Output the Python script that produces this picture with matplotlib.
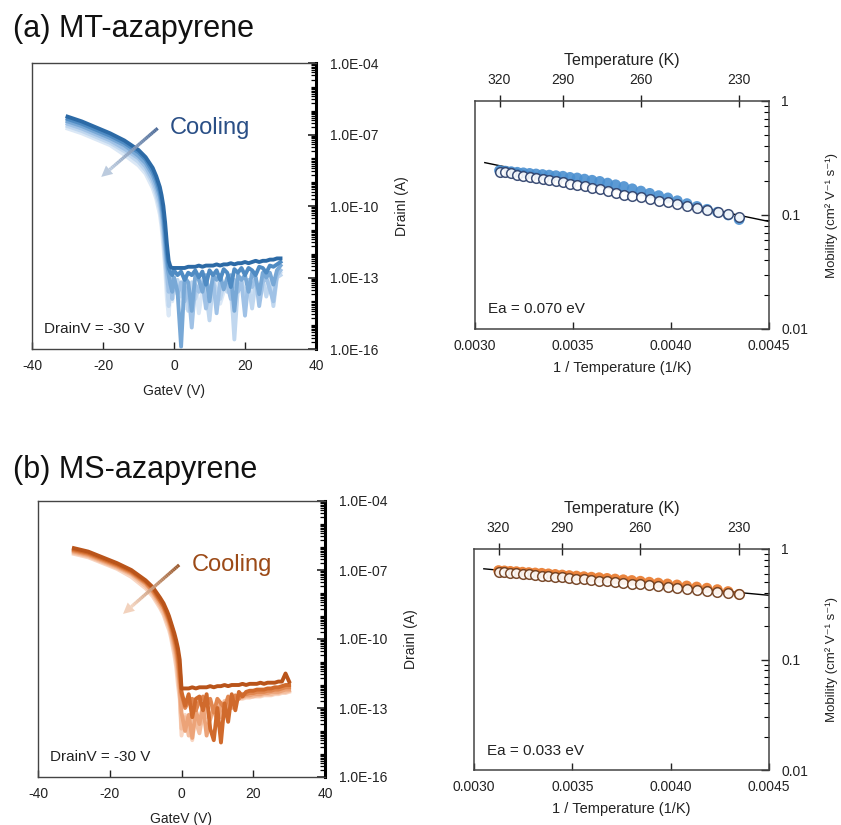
import numpy as np
import matplotlib
matplotlib.use("Agg")
import matplotlib.pyplot as plt
from matplotlib.collections import LineCollection
from matplotlib.ticker import LogLocator, FixedLocator, NullFormatter, FuncFormatter

plt.rcParams['font.family'] = ['Liberation Sans', 'DejaVu Sans']

# ---- transfer curves (log10 of drain current) ----
gate_v = [-30, -26, -22, -18, -14, -10, -8, -6, -5, -4, -3.5, -3, -2.5, -2, -1.5, -1, -0.5,
          0, 1, 2, 3, 4, 5, 6, 7, 8, 9, 10, 11, 12, 13, 14, 15, 16, 17, 18, 19, 20,
          21, 22, 23, 24, 25, 26, 27, 28, 29, 30]

# MT-azapyrene, hot (dark) -> cold (light)
mt_on = [
    [-6.25, -6.45, -6.7, -6.95, -7.25, -7.65, -7.95, -8.4, -8.75, -9.2, -9.55, -10.0, -10.7, -11.6, -12.3, -12.55, -12.6],
    [-6.35, -6.55, -6.8, -7.05, -7.35, -7.75, -8.05, -8.55, -8.9, -9.4, -9.8, -10.3, -11.1, -12.0, -12.6, -12.8, -12.9],
    [-6.45, -6.65, -6.9, -7.15, -7.45, -7.9, -8.2, -8.7, -9.1, -9.6, -10.05, -10.6, -11.5, -12.4, -12.9, -13.3, -13.6],
    [-6.55, -6.75, -7.0, -7.25, -7.6, -8.0, -8.35, -8.9, -9.3, -9.85, -10.3, -10.95, -11.9, -12.8, -13.6, -13.0, -13.9],
    [-6.65, -6.85, -7.1, -7.35, -7.7, -8.15, -8.5, -9.05, -9.5, -10.1, -10.6, -11.3, -12.3, -13.2, -14.2, -13.3, -13.6],
    [-6.75, -6.95, -7.2, -7.45, -7.85, -8.3, -8.65, -9.25, -9.7, -10.35, -10.9, -11.7, -12.6, -13.9, -14.6, -13.5, -14.0],
]
mt_off = [
    [-12.6, -12.6, -12.6, -12.6, -12.55, -12.55, -12.55, -12.5, -12.55, -12.5, -12.5, -12.5, -12.45, -12.5, -12.45, -12.45,
     -12.4, -12.45, -12.4, -12.4, -12.35, -12.4, -12.35, -12.3, -12.35, -12.3, -12.3, -12.25, -12.25, -12.2, -12.2],
    [-12.7, -12.9, -12.75, -13.1, -12.8, -12.9, -12.7, -13.0, -12.75, -13.3, -12.7, -12.9, -12.7, -13.1, -12.65, -12.8,
     -13.4, -12.65, -12.8, -12.6, -12.9, -12.6, -12.7, -12.9, -12.55, -12.6, -12.8, -12.5, -12.55, -12.45, -12.35],
    [-13.0, -13.6, -15.9, -13.0, -13.2, -14.4, -12.9, -13.1, -13.6, -12.9, -14.0, -12.9, -13.1, -12.9, -13.5, -13.0,
     -12.9, -14.4, -12.9, -13.1, -12.9, -13.6, -12.8, -13.0, -13.7, -12.8, -13.0, -12.8, -13.3, -12.7, -12.5],
    [-13.0, -13.7, -13.2, -14.0, -13.4, -15.1, -13.3, -13.6, -13.2, -14.3, -13.5, -13.1, -14.5, -13.2, -13.4, -13.3,
     -13.9, -13.1, -13.6, -13.2, -14.6, -13.1, -13.4, -13.0, -14.2, -13.2, -13.0, -13.5, -14.0, -12.9, -12.7],
    [-13.3, -13.1, -13.8, -13.3, -14.4, -13.2, -13.9, -13.4, -13.1, -13.6, -14.8, -13.2, -13.5, -13.9, -13.3, -13.6,
     -13.2, -15.6, -13.4, -13.1, -13.7, -13.3, -14.3, -13.2, -13.5, -13.1, -13.8, -13.2, -14.2, -13.0, -12.9],
    [-13.5, -13.2, -13.9, -14.3, -13.4, -13.7, -13.2, -14.5, -13.5, -13.3, -13.9, -13.4, -13.2, -14.1, -13.6, -13.3,
     -13.8, -14.9, -13.5, -13.2, -14.0, -13.4, -13.6, -13.3, -13.7, -13.2, -13.5, -13.1, -13.4, -13.0, -12.8],
]

# MS-azapyrene
ms_on = [
    [-6.05, -6.2, -6.45, -6.7, -7.0, -7.45, -7.75, -8.2, -8.45, -8.8, -9.0, -9.25, -9.5, -9.75, -10.05, -10.4, -10.9],
    [-6.1, -6.25, -6.5, -6.75, -7.05, -7.5, -7.8, -8.3, -8.55, -8.9, -9.1, -9.35, -9.6, -9.9, -10.2, -10.6, -11.3],
    [-6.15, -6.3, -6.55, -6.8, -7.1, -7.55, -7.9, -8.35, -8.6, -9.0, -9.2, -9.45, -9.75, -10.05, -10.4, -10.9, -11.7],
    [-6.2, -6.35, -6.6, -6.85, -7.15, -7.6, -7.95, -8.45, -8.7, -9.1, -9.3, -9.6, -9.9, -10.25, -10.65, -11.2, -12.1],
    [-6.25, -6.4, -6.65, -6.9, -7.2, -7.7, -8.05, -8.55, -8.85, -9.25, -9.45, -9.75, -10.1, -10.45, -10.9, -11.6, -12.4],
    [-6.3, -6.45, -6.7, -6.95, -7.3, -7.8, -8.15, -8.65, -8.95, -9.4, -9.6, -9.9, -10.3, -10.7, -11.2, -12.0, -12.6],
]
ms_off = [
    [-12.15, -12.15, -12.15, -12.1, -12.15, -12.1, -12.1, -12.1, -12.05, -12.1, -12.05, -12.05, -12.0, -12.05, -12.0, -12.0,
     -12.0, -11.95, -12.0, -11.95, -11.95, -11.95, -11.9, -11.95, -11.9, -11.9, -11.9, -11.85, -11.85, -11.5, -11.85],
    [-12.3, -12.9, -12.4, -13.4, -12.6, -12.5, -13.1, -12.4, -13.9, -14.4, -13.0, -14.5, -12.8, -13.6, -12.4, -13.1,
     -12.3, -12.5, -12.3, -12.25, -12.25, -12.2, -12.2, -12.2, -12.15, -12.15, -12.1, -12.1, -12.05, -12.0, -12.0],
    [-12.4, -13.0, -12.7, -12.6, -13.1, -12.7, -12.5, -12.9, -12.6, -13.2, -12.6, -12.8, -13.0, -12.5, -12.7, -12.45,
     -12.6, -12.4, -12.4, -12.35, -12.35, -12.3, -12.3, -12.3, -12.25, -12.25, -12.2, -12.2, -12.15, -12.1, -12.1],
    [-13.2, -14.0, -13.3, -14.3, -13.1, -13.7, -12.9, -14.2, -13.4, -13.0, -13.6, -12.8, -13.3, -12.7, -13.0, -12.6,
     -12.5, -12.5, -12.45, -12.45, -12.4, -12.4, -12.4, -12.35, -12.35, -12.3, -12.3, -12.3, -12.25, -12.2, -12.2],
    [-13.9, -13.4, -14.2, -13.0, -13.6, -14.1, -13.2, -12.9, -13.5, -13.1, -12.8, -13.4, -12.7, -12.9, -12.6, -12.6,
     -12.55, -12.55, -12.5, -12.5, -12.5, -12.45, -12.45, -12.4, -12.4, -12.4, -12.35, -12.35, -12.3, -12.3, -12.25],
    [-14.2, -13.3, -13.8, -14.4, -13.2, -13.6, -12.9, -13.4, -12.8, -13.1, -12.7, -12.9, -12.7, -12.65, -12.65, -12.6,
     -12.6, -12.6, -12.55, -12.55, -12.5, -12.5, -12.5, -12.45, -12.45, -12.45, -12.4, -12.4, -12.35, -12.35, -12.3],
]

mt_colors = ['#2c6aa6', '#4f8bc3', '#78a8d6', '#a0c2e6', '#c0d7ef', '#dbe8f6']
ms_colors = ['#b9541a', '#d06a2c', '#e0864f', '#eca378', '#f4bfa0', '#f9d6c2']

# ---- mobility vs temperature ----
temps = [320, 317, 314, 311, 308, 305, 302, 299, 296, 293, 290, 287, 284, 281, 278, 275,
         272, 269, 266, 263, 260, 257, 254, 251, 248, 245, 242, 239, 236, 233, 230]
mt_mu_fill = [0.2455, 0.2427, 0.2399, 0.2371, 0.2344, 0.2317, 0.2291, 0.2265, 0.2239, 0.2213, 0.2188,
              0.2138, 0.2113, 0.2065, 0.2018, 0.1972, 0.1905, 0.1841, 0.1778, 0.1698, 0.1622, 0.1549,
              0.1479, 0.1413, 0.1334, 0.1259, 0.1189, 0.1122, 0.1059, 0.1000, 0.0912]
mt_mu_open = [0.240, 0.237, 0.232, 0.226, 0.221, 0.216, 0.211, 0.207, 0.202, 0.197, 0.193,
              0.188, 0.182, 0.178, 0.172, 0.168, 0.162, 0.157, 0.151, 0.148, 0.143, 0.138,
              0.133, 0.129, 0.124, 0.120, 0.115, 0.111, 0.106, 0.102, 0.0955]
ms_mu_fill = [0.638, 0.634, 0.628, 0.624, 0.617, 0.612, 0.607, 0.603, 0.596, 0.589, 0.582,
              0.575, 0.569, 0.562, 0.556, 0.550, 0.542, 0.535, 0.527, 0.519, 0.511, 0.501,
              0.492, 0.483, 0.473, 0.463, 0.453, 0.442, 0.429, 0.412, 0.389]
ms_mu_open = [0.624, 0.617, 0.611, 0.604, 0.597, 0.590, 0.583, 0.575, 0.569, 0.562, 0.555,
              0.547, 0.540, 0.532, 0.525, 0.518, 0.509, 0.501, 0.493, 0.485, 0.478, 0.470,
              0.461, 0.453, 0.445, 0.437, 0.428, 0.419, 0.410, 0.402, 0.394]
fit_x = [0.00305, 0.0045]
mt_fit = [0.288, 0.0877]
ms_fit = [0.662, 0.381]

temp_ticks = [320, 290, 260, 230]

W, H = 841, 825
fig = plt.figure(figsize=(W / 100, H / 100), dpi=100)


def px_axes(x0, y0, x1, y1):
    return fig.add_axes([x0 / W, 1 - y1 / H, (x1 - x0) / W, (y1 - y0) / H])


def gradient_arrow(ax, tail, head, c_tail, c_head):
    t = ax.transData.transform(tail)
    h = ax.transData.transform(head)
    d = h - t
    L = np.hypot(*d)
    u = d / L
    head_len = 11
    n = 30
    s = np.linspace(0, L - head_len, n + 1)
    pts = t + np.outer(s, u)
    segs = np.stack([pts[:-1], pts[1:]], axis=1)
    c0 = np.array(matplotlib.colors.to_rgb(c_tail))
    c1 = np.array(matplotlib.colors.to_rgb(c_head))
    cols = [c0 + (c1 - c0) * f for f in np.linspace(0, 1, n)]
    inv = ax.transData.inverted()
    segs_d = [inv.transform(sg) for sg in segs]
    lc = LineCollection(segs_d, colors=cols, linewidths=2.4, capstyle='butt', zorder=6)
    ax.add_collection(lc)
    perp = np.array([-u[1], u[0]])
    base = h - u * head_len
    tri = np.array([h, base + perp * 5.5, base - perp * 5.5])
    ax.add_patch(plt.Polygon(inv.transform(tri), closed=True, color=c_head, lw=0, zorder=6))


def transfer_panel(ax, on, off, colors, arrow, arrow_cols, text_xy, text_col):
    for i in range(len(on) - 1, -1, -1):
        y = 10.0 ** np.array(on[i] + off[i])
        ax.plot(gate_v, y, color=colors[i], lw=2.8, solid_joinstyle='round', zorder=3)
    ax.set_yscale('log')
    ax.set_xlim(-40, 40)
    ax.set_ylim(1e-16, 1e-4)
    ax.set_xticks([-40, -20, 0, 20, 40])
    ax.xaxis.set_major_formatter(FuncFormatter(lambda v, p: '%d' % v))
    ax.yaxis.set_major_locator(FixedLocator([1e-16, 1e-13, 1e-10, 1e-7, 1e-4]))
    ax.yaxis.set_minor_locator(LogLocator(base=10, subs=np.arange(1, 10), numticks=200))
    ax.yaxis.set_minor_formatter(NullFormatter())
    ax.yaxis.set_major_formatter(FuncFormatter(lambda v, p: '1.0E-%02d' % round(-np.log10(v))))
    ax.yaxis.tick_right()
    ax.yaxis.set_label_position('right')
    ax.tick_params(axis='x', direction='in', length=5, width=1, pad=7, labelsize=10, colors='#222222')
    ax.tick_params(axis='y', which='major', direction='in', length=6, width=1.2, pad=10, labelsize=10,
                   colors='#222222')
    ax.tick_params(axis='y', which='minor', direction='in', length=3.5, width=0.9)
    for s in ['left', 'top', 'bottom']:
        ax.spines[s].set_color('#444444')
        ax.spines[s].set_linewidth(1.0)
    ax.spines['right'].set_linewidth(2.2)
    ax.spines['right'].set_color('black')
    ax.set_xlabel('GateV (V)', fontsize=10, color='#222222', labelpad=8)
    ax.set_ylabel('DrainI (A)', fontsize=10, color='#222222', labelpad=12)
    gradient_arrow(ax, arrow[0], arrow[1], arrow_cols[0], arrow_cols[1])
    ax.text(text_xy[0], text_xy[1], 'Cooling', fontsize=17, color=text_col, va='center', ha='left', zorder=7)
    ax.text(-36.6, 10 ** -15.15, 'DrainV = -30 V', fontsize=11, color='#222222', va='center', ha='left')


def mobility_panel(ax, mu_fill, mu_open, fit_y, fill_col, open_col, ea_text):
    inv_t = [1.0 / t for t in temps]
    ax.plot(fit_x, fit_y, color='black', lw=1.0, zorder=2)
    ax.scatter(inv_t, mu_fill, s=60, color=fill_col, alpha=0.9, edgecolors='none', zorder=3)
    ax.scatter(inv_t, mu_open, s=48, facecolors='white', edgecolors=open_col, linewidths=1.1,
               alpha=0.9, zorder=4)
    ax.set_yscale('log')
    ax.set_xlim(0.003, 0.0045)
    ax.set_ylim(0.01, 1)
    ax.set_xticks([0.003, 0.0035, 0.004, 0.0045])
    ax.xaxis.set_major_formatter(FuncFormatter(lambda v, p: '%.4f' % v))
    ax.yaxis.set_major_locator(FixedLocator([0.01, 0.1, 1]))
    ax.yaxis.set_major_formatter(FuncFormatter(lambda v, p: '%g' % v))
    ax.yaxis.set_minor_locator(LogLocator(base=10, subs=np.arange(2, 10), numticks=20))
    ax.yaxis.set_minor_formatter(NullFormatter())
    ax.yaxis.tick_right()
    ax.yaxis.set_label_position('right')
    ax.tick_params(axis='x', direction='in', length=5, width=1, pad=7, labelsize=10, colors='#222222')
    ax.tick_params(axis='y', which='major', direction='in', length=6, width=1, pad=9, labelsize=10,
                   colors='#222222')
    ax.tick_params(axis='y', which='minor', direction='in', length=3.5, width=0.8)
    for s in ax.spines.values():
        s.set_color('#444444')
        s.set_linewidth(1.1)
    ax.set_xlabel('1 / Temperature (1/K)', fontsize=10.5, color='#222222', labelpad=6)
    ax.set_ylabel('Mobility (cm\u00b2 V\u207b\u00b9 s\u207b\u00b9)', fontsize=9.5, color='#222222', labelpad=12)
    top = ax.secondary_xaxis('top', functions=(lambda x: 1.0 / np.clip(x, 1e-9, None),
                                                lambda t: 1.0 / np.clip(t, 1e-9, None)))
    top.set_xticks(temp_ticks)
    top.xaxis.set_major_formatter(FuncFormatter(lambda v, p: '%d' % v))
    top.tick_params(direction='inout', length=8, width=1, pad=6, labelsize=10, colors='#222222')
    top.spines['top'].set_visible(False)
    top.set_xlabel('Temperature (K)', fontsize=11.5, color='#222222', labelpad=6)
    ax.text(0.003066, 0.0149, ea_text, fontsize=11, color='#222222', va='center', ha='left')


ax_a1 = px_axes(32, 63, 316, 349)
ax_a2 = px_axes(475, 101, 769, 329)
ax_b1 = px_axes(38, 501, 325, 777)
ax_b2 = px_axes(474, 549, 769, 770)

transfer_panel(ax_a1, mt_on, mt_off, mt_colors,
               ((-4.6, 10 ** -6.74), (-20.5, 10 ** -8.78)), ('#4d6b98', '#bccbde'),
               (-1.1, 10 ** -6.74), '#2a4f86')
transfer_panel(ax_b1, ms_on, ms_off, ms_colors,
               ((-0.65, 10 ** -6.78), (-16.3, 10 ** -8.91)), ('#9a5a2e', '#f2d2bd'),
               (2.8, 10 ** -6.78), '#9c4a17')
mobility_panel(ax_a2, mt_mu_fill, mt_mu_open, mt_fit, '#4a8fd0', '#2c3f6a', 'Ea = 0.070 eV')
mobility_panel(ax_b2, ms_mu_fill, ms_mu_open, ms_fit, '#e8782a', '#6e3a18', 'Ea = 0.033 eV')

fig.text(13 / W, 1 - 37 / H, '(a) MT-azapyrene', fontsize=22, va='baseline', ha='left', color='#111111')
fig.text(13 / W, 1 - 478 / H, '(b) MS-azapyrene', fontsize=22, va='baseline', ha='left', color='#111111')

fig.savefig('out.png', dpi=100)
